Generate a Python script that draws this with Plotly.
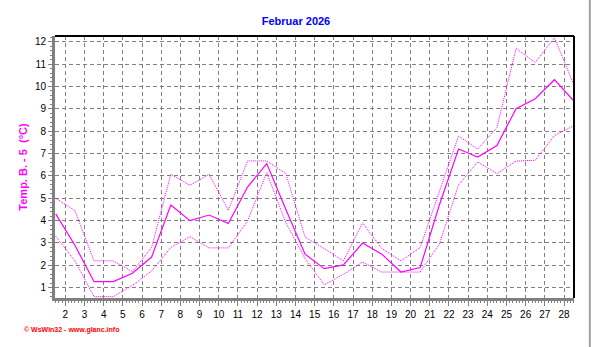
import plotly.graph_objects as go

days = list(range(1, 29))
temp_mid = [4.3, 2.9, 1.27, 1.27, 1.65, 2.37, 4.7, 4.0, 4.25, 3.87, 5.5, 6.55, 4.5, 2.5,
            1.85, 2.02, 3.0, 2.5, 1.7, 1.9, 4.7, 7.2, 6.84, 7.36, 9.0, 9.45, 10.3, 9.36]
temp_max = [5.0, 4.45, 2.2, 2.2, 1.72, 2.8, 6.07, 5.58, 6.07, 4.46, 6.67, 6.67, 6.1, 3.26,
            2.75, 2.2, 3.9, 2.75, 2.2, 2.8, 5.3, 7.78, 7.2, 8.15, 11.7, 11.07, 12.18, 10.1]
temp_min = [3.3, 2.2, 0.6, 0.6, 1.1, 1.75, 2.8, 3.28, 2.78, 2.78, 3.98, 6.15, 3.9, 2.3,
            1.13, 1.6, 2.15, 1.7, 1.7, 1.7, 2.95, 5.6, 6.62, 6.1, 6.66, 6.7, 7.8, 8.24]
x_ticks = list(range(2, 29))
y_ticks = list(range(1, 13))

xpos = [d + 0.5 for d in days]
MAG = "#ff00ff"

fig = go.Figure()
fig.add_trace(go.Scatter(x=xpos, y=temp_max, mode="lines",
                         line=dict(color=MAG, width=1, dash="1px,1px"), hoverinfo="skip"))
fig.add_trace(go.Scatter(x=xpos, y=temp_min, mode="lines",
                         line=dict(color=MAG, width=1, dash="1px,1px"), hoverinfo="skip"))
fig.add_trace(go.Scatter(x=xpos, y=temp_mid, mode="lines",
                         line=dict(color=MAG, width=1.2), hoverinfo="skip"))

font = "Liberation Sans, Arial, sans-serif"
fig.update_layout(
    width=592, height=347,
    margin=dict(l=55, r=18, t=36, b=49),
    paper_bgcolor="white", plot_bgcolor="white",
    showlegend=False,
    font=dict(family=font, size=10, color="black"),
    title=dict(text="<b>Februar 2026</b>", x=0.5, xanchor="center", y=0.94, yanchor="middle",
               font=dict(family=font, size=11, color="#0000ff")),
    xaxis=dict(range=[1.463, 28.52], tickmode="array", tickvals=x_ticks,
               ticktext=[str(t) for t in x_ticks],
               showgrid=True, gridcolor="#808080", griddash="4px,3px", gridwidth=1,
               showline=True, linecolor="#808080", linewidth=3,
               ticks="outside", ticklen=5, tickcolor="#808080", tickwidth=1,
               minor=dict(dtick=1/6, tick0=0, ticks="outside", ticklen=2, tickcolor="#808080", showgrid=False),
               zeroline=False, fixedrange=True),
    yaxis=dict(range=[0.54, 12.255], tickmode="array", tickvals=y_ticks,
               showgrid=True, gridcolor="#808080", griddash="4px,3px", gridwidth=1,
               showline=True, linecolor="#808080", linewidth=3,
               ticks="outside", ticklen=4, tickcolor="#808080", tickwidth=1,
               minor=dict(dtick=0.2, tick0=0, ticks="outside", ticklen=2, tickcolor="#808080", showgrid=False),
               title=dict(text="<b>Temp. B. - 5  (°C)</b>", standoff=6,
                          font=dict(family=font, size=11, color=MAG)),
               zeroline=False, fixedrange=True),
)

# black top and right borders of the plot area
fig.add_shape(type="line", xref="paper", yref="paper", x0=0, x1=1, y0=1, y1=1,
              line=dict(color="black", width=2))
fig.add_shape(type="line", xref="paper", yref="paper", x0=1, x1=1, y0=0, y1=1,
              line=dict(color="black", width=2))

# outer frame (right and bottom gray lines)
fig.add_shape(type="line", xref="paper", yref="paper", x0=1.0305, x1=1.0305, y0=-0.195, y1=1.14,
              line=dict(color="#a0a0a0", width=2))
fig.add_shape(type="line", xref="paper", yref="paper", x0=-0.11, x1=1.0305, y0=-0.195, y1=-0.195,
              line=dict(color="#a0a0a0", width=2))

fig.add_annotation(text="<b>© WsWin32 - www.glanc.info</b>", xref="paper", yref="paper",
                   x=-0.064, y=-0.123, xanchor="left", yanchor="middle", showarrow=False,
                   font=dict(family=font, size=7, color="#ff0000"))

fig.write_html("out.html")
